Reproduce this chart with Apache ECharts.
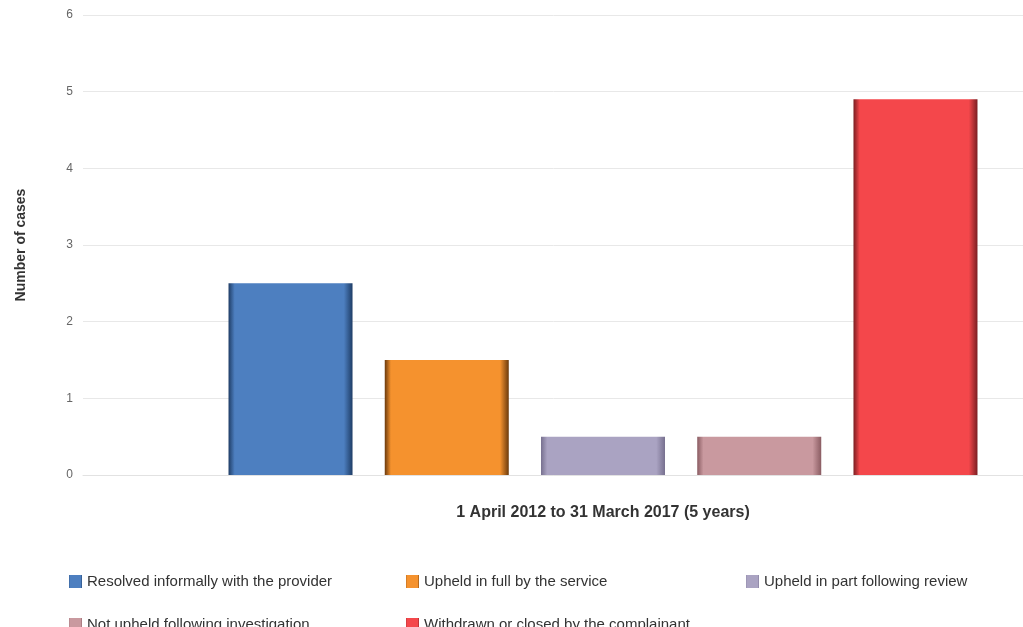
<!DOCTYPE html>
<html>
<head>
<meta charset="utf-8">
<title>Cases by outcome</title>
<script src="https://cdn.jsdelivr.net/npm/echarts@6/dist/echarts.min.js"></script>
<style>
  html, body { margin: 0; padding: 0; background: #ffffff; }
  #chart { width: 1023px; height: 627px; }
</style>
</head>
<body>
<div id="chart"></div>
<script>
// Single reporting period on the category axis
const categories = ['1 April 2012 to 31 March 2017 (5 years)'];

// One bar per outcome
const seriesNames = [
  'Resolved informally with the provider',
  'Upheld in full by the service',
  'Upheld in part following review',
  'Not upheld following investigation',
  'Withdrawn or closed by the complainant'
];
const seriesValues = [
  [2.5],
  [1.5],
  [0.5],
  [0.5],
  [4.9]
];
const seriesColors = ['#4d7fc0', '#f5922e', '#aaa3c2', '#c9999f', '#f4474b'];
const seriesEdges  = ['#1f3d66', '#6b3a0c', '#77708f', '#8a5c62', '#7a1e22'];

// Value axis ticks
const yTicks = [0, 1, 2, 3, 4, 5, 6];
const yTitle = 'Number of cases';

// Legend slots: three per row, two rows
const legendLeft = [64, 401, 741, 64, 401];
const legendTop  = [569, 569, 569, 612, 612];

function barFill(base, edge) {
  return new echarts.graphic.LinearGradient(0, 0, 1, 0, [
    { offset: 0, color: edge },
    { offset: 0.05, color: base },
    { offset: 0.93, color: base },
    { offset: 1, color: edge }
  ]);
}

const series = seriesNames.map((name, i) => ({
  name: name,
  type: 'bar',
  data: seriesValues[i],
  barWidth: 124,
  barGap: '26%',
  itemStyle: { color: barFill(seriesColors[i], seriesEdges[i]) }
}));

const legendText = { color: '#333', fontSize: 15, fontFamily: 'Liberation Sans, Arial, sans-serif' };

const legends = seriesNames.map((name, i) => ({
  data: [name],
  left: legendLeft[i],
  top: legendTop[i],
  itemWidth: 13,
  itemHeight: 13,
  icon: 'rect',
  textStyle: legendText
}));

const chart = echarts.init(document.getElementById('chart'));
chart.setOption({
  animation: false,
  backgroundColor: '#ffffff',
  color: seriesColors,
  grid: { left: 83, top: 15, width: 1040, bottom: 152, outerBoundsMode: 'none', containLabel: false },
  xAxis: {
    type: 'category',
    data: categories,
    axisLine: { show: true, lineStyle: { color: '#e2e2e2' } },
    axisTick: { show: false },
    axisLabel: {
      margin: 30,
      color: '#333',
      fontSize: 16,
      fontWeight: 'bold',
      fontFamily: 'Liberation Sans, Arial, sans-serif'
    }
  },
  yAxis: {
    type: 'value',
    min: yTicks[0],
    max: yTicks[yTicks.length - 1],
    interval: 1,
    name: yTitle,
    nameLocation: 'middle',
    nameGap: 55,
    nameRotate: 90,
    nameTextStyle: { color: '#333', fontSize: 14, fontWeight: 'bold', fontFamily: 'Liberation Sans, Arial, sans-serif' },
    axisLine: { show: false },
    axisTick: { show: false },
    axisLabel: { color: '#666', fontSize: 12, margin: 10, fontFamily: 'Liberation Sans, Arial, sans-serif' },
    splitLine: { show: true, lineStyle: { color: '#e8e8e8', width: 1 } }
  },
  legend: legends,
  series: series
});
</script>
</body>
</html>
